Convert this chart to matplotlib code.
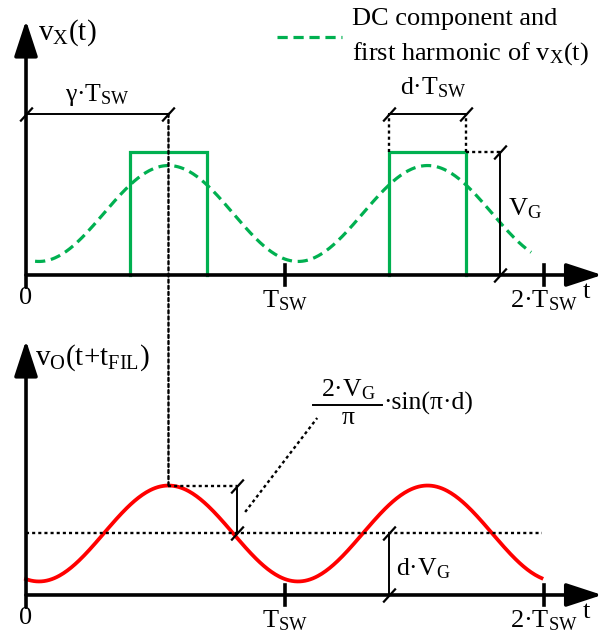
import numpy as np
import matplotlib
matplotlib.use("Agg")
import matplotlib.pyplot as plt
from matplotlib.patches import ConnectionPatch
from matplotlib.path import Path

plt.rcParams.update({
    "font.family": ["Liberation Serif", "DejaVu Serif"],
    "mathtext.fontset": "custom",
    "mathtext.rm": "Liberation Serif",
    "mathtext.it": "Liberation Serif",
    "mathtext.bf": "Liberation Serif",
    "mathtext.default": "regular",
})

# ---- quantities (time in units of T_SW, voltage in units of V_G) ----
tick_positions = [1.0, 2.0]
tick_labels = ["$T_{SW}$", "$2·T_{SW}$"]

d = 0.30            # duty cycle
gamma = 0.55        # pulse centre within the period
v_g = 1.0           # pulse height
periods = [0, 1]    # two switching periods are drawn

wave_dc = 0.50      # DC level of the filtered waveform (drawn schematically)
wave_amp = 0.39     # first-harmonic amplitude (drawn schematically)
green_span = (0.035, 1.95)
red_span = (0.0, 1.99)

GREEN = "#00b050"
RED = "#ff0000"
DOT = (0, (1.3, 1.3))
DOT_LW = 1.7
FS = 19

fig = plt.figure(figsize=(6.13, 6.32), dpi=100)
ax_top = fig.add_axes([0, 312 / 632, 1, 320 / 632])
ax_bot = fig.add_axes([0, 0, 1, 312 / 632])
for ax in (ax_top, ax_bot):
    ax.set_xlim(-0.1004, 2.266)
    ax.axis("off")
ax_top.set_ylim(-0.366, 2.236)
ax_bot.set_ylim(-0.301, 2.236)

slash = Path([(-1, -1.1), (1, 1.1)], [Path.MOVETO, Path.LINETO])


def first_harmonic(t):
    return wave_dc + wave_amp * np.cos(2 * np.pi * (t - gamma))


def draw_axes(ax, label_y):
    arrow = dict(arrowstyle="-|>,head_length=1.1,head_width=0.36",
                 lw=2.6, color="k", shrinkA=0, shrinkB=0, mutation_scale=20)
    ax.annotate("", xy=(2.224, 0), xytext=(0, 0), arrowprops=arrow)
    ax.annotate("", xy=(0, 2.07), xytext=(0, -0.1), arrowprops=arrow)
    for tp in tick_positions:
        ax.plot([tp, tp], [-0.08, 0.08], color="k", lw=2.6)
    ax.text(0, label_y + 0.02, "0", fontsize=FS, ha="center", va="center")
    for tp, tl in zip(tick_positions, tick_labels):
        ax.text(tp, label_y, tl, fontsize=FS, ha="center", va="center")
    ax.text(2.15, -0.14, "t", fontsize=FS, ha="left", va="center")


def dim_line(ax, p0, p1):
    ax.plot([p0[0], p1[0]], [p0[1], p1[1]], color="k", lw=1.4)
    ax.plot([p0[0], p1[0]], [p0[1], p1[1]], ls="none", marker=slash,
            ms=10, mew=1.6, mec="k")


# ================= switching node voltage =================
ax = ax_top
draw_axes(ax, -0.21)
ax.text(0.045, 1.97, "$v_X(t)$", fontsize=21, ha="left", va="center")

for k in periods:
    s, e = k + gamma - d / 2, k + gamma + d / 2
    ax.plot([s, s, e, e], [0, v_g, v_g, 0], color=GREEN, lw=2.3,
            solid_joinstyle="miter")

tg = np.linspace(*green_span, 400)
ax.plot(tg, first_harmonic(tg), color=GREEN, lw=2.3, dashes=(3.2, 1.8))

# legend
ax.plot([0.97, 1.22], [1.935, 1.935], color=GREEN, lw=2.3, dashes=(3.2, 1.8))
ax.text(1.26, 2.08, "DC component and", fontsize=FS, ha="left", va="center")
ax.text(1.26, 1.80, "first harmonic of $v_X(t)$", fontsize=FS,
        ha="left", va="center")

# gamma * T_SW
y_dim = 1.31
dim_line(ax, (0, y_dim), (gamma, y_dim))
ax.text(gamma / 2, 1.46, "γ·$T_{SW}$", fontsize=18.5, ha="center",
        va="center")

# d * T_SW
s2, e2 = 1 + gamma - d / 2, 1 + gamma + d / 2
dim_line(ax, (s2, y_dim), (e2, y_dim))
for x in (s2, e2):
    ax.plot([x, x], [v_g, y_dim], color="k", lw=DOT_LW, ls=DOT)
ax.text((s2 + e2) / 2 + 0.02, 1.52, "d·$T_{SW}$", fontsize=18.5,
        ha="center", va="center")

# V_G
x_vg = 1.83
ax.plot([e2, x_vg], [v_g, v_g], color="k", lw=DOT_LW, ls=DOT)
dim_line(ax, (x_vg, 0), (x_vg, v_g))
ax.text(x_vg + 0.03, 0.54, "$V_G$", fontsize=FS, ha="left", va="center")

# ================= output voltage =================
ax = ax_bot
draw_axes(ax, -0.21)
ax.text(0.036, 1.93, "$v_O(t{+}t_{FIL})$", fontsize=21, ha="left",
        va="center")

tr = np.linspace(*red_span, 400)
ax.plot(tr, first_harmonic(tr), color=RED, lw=2.7)

peak = wave_dc + wave_amp
ax.plot([0, red_span[1]], [wave_dc, wave_dc], color="k", lw=DOT_LW, ls=DOT)

# first-harmonic amplitude
x_amp = 0.815
ax.plot([gamma, x_amp], [peak, peak], color="k", lw=DOT_LW, ls=DOT)
dim_line(ax, (x_amp, wave_dc), (x_amp, peak))
ax.plot([0.846, 1.124], [0.675, 1.439], color="k", lw=DOT_LW, ls=DOT)
ax.plot([1.108, 1.375], [1.545, 1.545], color="k", lw=1.4)
ax.text(1.243, 1.67, "2·$V_G$", fontsize=18.5, ha="center", va="center")
ax.text(1.243, 1.44, "π", fontsize=18.5, ha="center", va="center")
ax.text(1.378, 1.555, "·sin(π·d)", fontsize=18.5, ha="left", va="center")

# d * V_G
x_dv = 1 + gamma - d / 2
dim_line(ax, (x_dv, 0), (x_dv, wave_dc))
ax.text(x_dv + 0.03, 0.21, "d·$V_G$", fontsize=18.5, ha="left", va="center")

# projection of the pulse centre onto the filtered waveform
con = ConnectionPatch(xyA=(gamma, y_dim), coordsA=ax_top.transData,
                      xyB=(gamma, peak), coordsB=ax_bot.transData,
                      color="k", lw=DOT_LW, ls=DOT)
fig.add_artist(con)

fig.savefig("out.png", dpi=100)
